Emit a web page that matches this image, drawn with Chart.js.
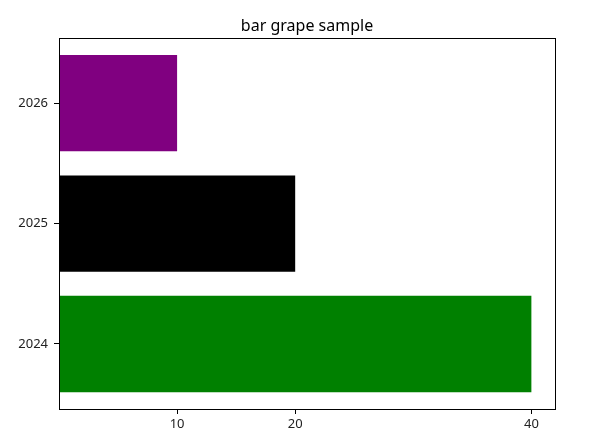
<!DOCTYPE html>
<html>
<head>
<meta charset="utf-8">
<script src="https://cdn.jsdelivr.net/npm/chart.js@4"></script>
<style>
    html, body { margin: 0; padding: 0; background: #fff; }
    #wrap { width: 589px; height: 442px; }
</style>
</head>
<body>
<div id="wrap"><canvas id="chart" width="589" height="442"></canvas></div>
<script>
// data
const years = ["2024", "2025", "2026"];
const amounts = [40, 20, 10];
const barColors = ["#008000", "#000000", "#800080"];
const xTicks = [10, 20, 40];

const fontFamily = "'Noto Sans', 'Noto Sans CJK KR', sans-serif";

// draws the full frame round the plot, like matplotlib spines,
// and centres the title over the plot area instead of the whole canvas
const frame = {
    id: 'frame',
    afterLayout(chart) {
        if (chart.titleBlock) {
            chart.titleBlock.left = chart.chartArea.left;
            chart.titleBlock.right = chart.chartArea.right;
        }
    },
    afterDraw(chart) {
        const a = chart.chartArea;
        const ctx = chart.ctx;
        ctx.save();
        ctx.strokeStyle = '#000';
        ctx.lineWidth = 1;
        ctx.strokeRect(Math.round(a.left) + 0.5, Math.round(a.top) + 0.5,
            Math.round(a.right - a.left), Math.round(a.bottom - a.top));
        ctx.restore();
    }
};

new Chart(document.getElementById("chart"), {
    type: 'bar',
    data: {
        datasets: [{
            data: years.map((y, i) => ({ x: amounts[i], y: i })),
            backgroundColor: barColors,
            borderWidth: 0,
            barPercentage: 0.8,
            categoryPercentage: 1
        }]
    },
    options: {
        indexAxis: 'y',
        responsive: false,
        animation: false,
        layout: { padding: { left: 0, right: 34, top: 0, bottom: 0 } },
        plugins: {
            legend: { display: false },
            tooltip: { enabled: false },
            title: {
                display: true,
                text: 'bar grape sample',
                color: '#000',
                font: { family: fontFamily, size: 16, weight: 'normal' },
                padding: { top: 17, bottom: 2 }
            }
        },
        scales: {
            x: {
                type: 'linear',
                min: 0,
                max: 42,
                afterBuildTicks: scale => { scale.ticks = xTicks.map(v => ({ value: v })); },
                afterFit: scale => { scale.height = 33; },
                grid: { drawOnChartArea: false, drawTicks: true, tickLength: 5, color: '#000' },
                border: { color: '#000' },
                ticks: { color: '#222', font: { family: fontFamily, size: 13 }, padding: 2, maxRotation: 0 }
            },
            y: {
                type: 'linear',
                min: -0.54,
                max: 2.54,
                offset: false,
                afterBuildTicks: scale => { scale.ticks = years.map((y, i) => ({ value: i })); },
                afterFit: scale => { scale.width = 59; },
                grid: { offset: false, drawOnChartArea: false, drawTicks: true, tickLength: 5, color: '#000' },
                border: { color: '#000' },
                ticks: {
                    color: '#222',
                    font: { family: fontFamily, size: 13 },
                    padding: 6,
                    callback: v => years[v]
                }
            }
        }
    },
    plugins: [frame]
});
</script>
</body>
</html>
